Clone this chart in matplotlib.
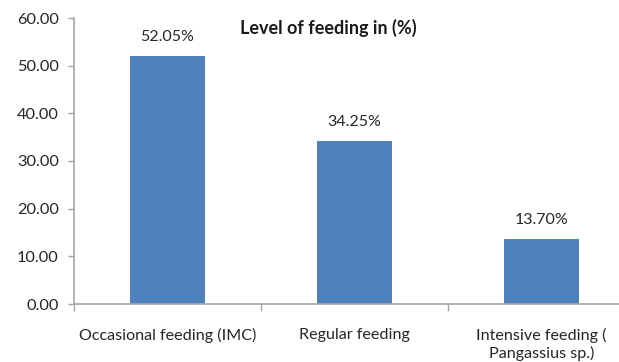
import numpy as np
import matplotlib
matplotlib.use('Agg')
from matplotlib import pyplot as plt

# feeding categories and their share (%)
categories = ['Occasional feeding (IMC)', 'Regular feeding', 'Intensive feeding (\nPangassius sp.)']
shares = [52.05, 34.25, 13.70]
yticks = [0, 10, 20, 30, 40, 50, 60]

plt.rcParams['font.family'] = ['Lato', 'DejaVu Sans']

fig = plt.figure(figsize=(6.19, 3.62), dpi=100)
fig.patch.set_facecolor('white')

# axes run a bit past the right edge, the last category gets cut off
ax = fig.add_axes([74/619, 58/362, 561/619, 286/362])

x = np.arange(len(categories))
ax.bar(x, shares, width=0.40, color='#4F81BD', zorder=2)

for xi, v in zip(x, shares):
    ax.text(xi, v + 2.4, f'{v:.2f}%', ha='center', va='bottom', fontsize=11.5, color='#262626')

ax.set_xlim(-0.5, len(categories) - 0.5)
ax.set_ylim(0, 60)
ax.set_yticks(yticks)
ax.set_yticklabels([f'{t:.2f}' for t in yticks], fontsize=11.8, color='#262626')

# category labels in the middle, tick marks on the boundaries
ax.set_xticks(x)
ax.set_xticklabels(categories, fontsize=11.6, color='#262626', linespacing=1.28)
ax.tick_params(axis='x', which='major', length=0, pad=17)
ax.set_xticks(np.arange(-0.5, len(categories)), minor=True)
ax.tick_params(axis='x', which='minor', length=5, color='#A6A6A6', width=1)
ax.tick_params(axis='y', length=4, color='#A6A6A6', width=1, pad=7)

for side in ['top', 'right']:
    ax.spines[side].set_visible(False)
for side in ['left', 'bottom']:
    ax.spines[side].set_color('#A6A6A6')
    ax.spines[side].set_linewidth(1.2)

fig.text(328/619, 1 - 28/362, 'Level of feeding in (%)', ha='center', va='center',
         fontsize=13, fontweight='bold', color='#1a1a1a')

fig.savefig('out.png', dpi=100)
